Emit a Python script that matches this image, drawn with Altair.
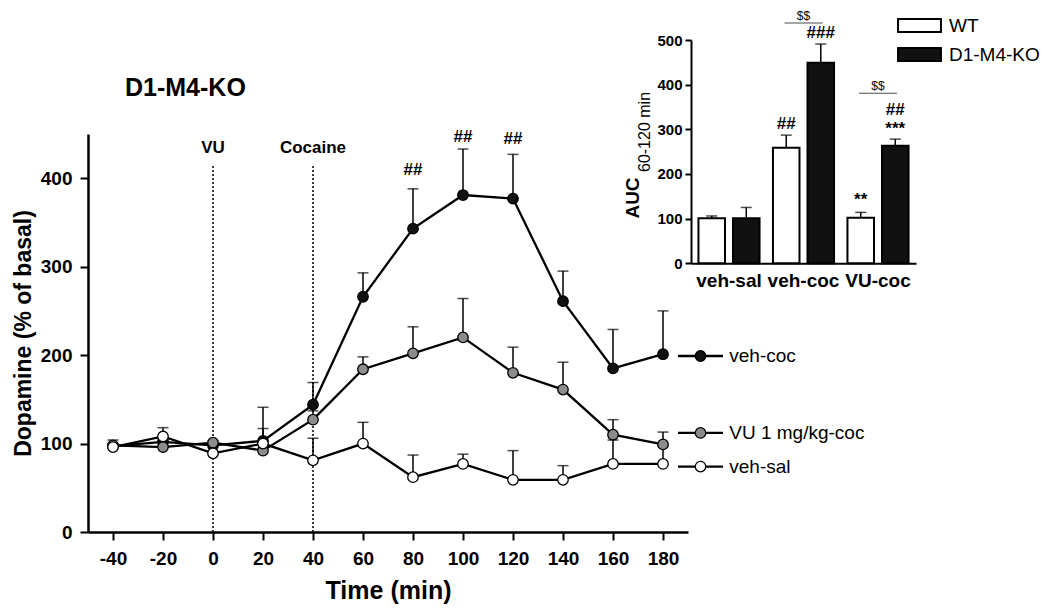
import altair as alt
import pandas as pd

# ---------------- data: main time course ----------------
times = [-40, -20, 0, 20, 40, 60, 80, 100, 120, 140, 160, 180]
series_names = ["veh-coc", "VU 1 mg/kg-coc", "veh-sal"]
veh_coc = [97, 102, 98, 103, 144, 266, 343, 381, 377, 261, 185, 201]
veh_coc_top = [100, 104, 100, 141, 169, 293, 388, 433, 427, 295, 229, 250]
vu_coc = [98, 96, 101, 92, 127, 184, 202, 220, 180, 161, 110, 99]
vu_coc_top = [104, 98, 103, 95, 137, 198, 232, 264, 209, 192, 127, 113]
veh_sal = [96, 108, 89, 100, 81, 100, 62, 77, 59, 59, 77, 77]
veh_sal_top = [99, 118, 91, 117, 106, 124, 87, 88, 92, 75, 104, 97]
series_fill = ["#111111", "#8c8c8c", "#ffffff"]

sig_times = [80, 100, 120]
sig_y = [409, 447, 444]
sig_text = ["##", "##", "##"]

events = ["VU", "Cocaine"]
event_t = [0, 40]

legend_y = [199, 112, 74]

# ---------------- data: inset AUC ----------------
conds = ["veh-sal", "veh-coc", "VU-coc"]
genos = ["WT", "D1-M4-KO"]
auc_wt = [101, 259, 102]
auc_wt_top = [106, 287, 114]
auc_ko = [101, 449, 263]
auc_ko_top = [125, 491, 278]
geno_fill = ["#ffffff", "#111111"]

note_cond = ["veh-coc", "veh-coc", "VU-coc", "VU-coc", "VU-coc"]
note_geno = ["WT", "D1-M4-KO", "WT", "D1-M4-KO", "D1-M4-KO"]
note_y = [311, 515, 141, 300, 343]
note_text = ["##", "###", "**", "***", "##"]

dd_cond = ["veh-coc", "VU-coc"]
dd_line_y = [538, 381]
dd_text_y = [545, 389]

NARROW = "Liberation Sans, Arial, sans-serif"
SANS = "Liberation Sans, Arial, sans-serif"

# ---------------- tables ----------------
rows = []
for name, m, tp in zip(series_names, [veh_coc, vu_coc, veh_sal],
                       [veh_coc_top, vu_coc_top, veh_sal_top]):
    for t, mv, tv in zip(times, m, tp):
        rows.append({"series": name, "t": t, "mean": mv, "top": tv})
df = pd.DataFrame(rows)

sig_df = pd.DataFrame({"t": sig_times, "y": sig_y, "txt": sig_text})
ev_df = pd.DataFrame({"t": event_t, "lab": events, "y0": 0, "y1": 416, "ylab": 434})
leg_df = pd.DataFrame({"series": series_names, "y": legend_y,
                       "x0": 186, "x1": 204, "xm": 195, "xt": 206.5})

auc_rows = []
for c, a, b, ta, tb in zip(conds, auc_wt, auc_ko, auc_wt_top, auc_ko_top):
    auc_rows.append({"cond": c, "geno": "WT", "auc": a, "top": ta})
    auc_rows.append({"cond": c, "geno": "D1-M4-KO", "auc": b, "top": tb})
auc_df = pd.DataFrame(auc_rows)
note_df = pd.DataFrame({"cond": note_cond, "geno": note_geno, "y": note_y, "txt": note_text})
dd_df = pd.DataFrame({"cond": dd_cond, "yl": dd_line_y, "yt": dd_text_y, "txt": "$$"})

# ---------------- main chart ----------------
xs = alt.Scale(domain=[-50, 190], nice=False, zero=False)
ys = alt.Scale(domain=[0, 450], nice=False)
x_axis = alt.Axis(values=times, title="Time (min)", grid=False, domainWidth=2.5,
                  domainColor="black", tickColor="black", tickWidth=2, tickSize=8,
                  labelExpr="datum.value + ''",
                  labelFont=NARROW, labelFontSize=19, labelFontWeight="bold",
                  labelColor="black", labelPadding=9, labelFlush=False,
                  titleFont=SANS, titleFontSize=25, titleFontWeight="bold",
                  titleColor="black", titlePadding=10)
y_axis = alt.Axis(values=[0, 100, 200, 300, 400], title="Dopamine (% of basal)",
                  grid=False, domainWidth=2.5, domainColor="black", tickColor="black",
                  tickWidth=2, tickSize=8, labelFont=NARROW, labelFontSize=19,
                  labelFontWeight="bold", labelColor="black", labelPadding=8,
                  titleFont=SANS, titleFontSize=23, titleFontWeight="bold",
                  titleColor="black", titlePadding=5)

X = alt.X("t:Q", scale=xs, axis=x_axis)
fill_main = alt.Fill("series:N", scale=alt.Scale(domain=series_names, range=series_fill),
                     legend=None)

ev_lines = alt.Chart(ev_df).mark_rule(color="black", strokeWidth=1.5, strokeDash=[2, 2]).encode(
    x=X, y=alt.Y("y0:Q", scale=ys, axis=y_axis), y2="y1:Q")
ev_text = alt.Chart(ev_df).mark_text(font=SANS, fontSize=17, fontWeight="bold",
                                     baseline="middle", color="black").encode(
    x=X, y=alt.Y("ylab:Q", scale=ys, axis=y_axis), text="lab:N")

err_rule = alt.Chart(df).mark_rule(color="black", strokeWidth=1.5).encode(
    x=X, y=alt.Y("mean:Q", scale=ys, axis=y_axis), y2="top:Q")
err_cap = alt.Chart(df).mark_tick(color="black", orient="horizontal", size=11,
                                  thickness=1.5).encode(
    x=X, y=alt.Y("top:Q", scale=ys, axis=y_axis))
lines = alt.Chart(df).mark_line(color="black", strokeWidth=2.3).encode(
    x=X, y=alt.Y("mean:Q", scale=ys, axis=y_axis), detail="series:N")
pts = alt.Chart(df).mark_circle(size=110, stroke="black", strokeWidth=1.3, opacity=1).encode(
    x=X, y=alt.Y("mean:Q", scale=ys, axis=y_axis), fill=fill_main)
sig = alt.Chart(sig_df).mark_text(font=SANS, fontSize=17, fontWeight="bold",
                                  baseline="middle", color="black").encode(
    x=X, y=alt.Y("y:Q", scale=ys, axis=y_axis), text="txt:N")

leg_line = alt.Chart(leg_df).mark_rule(color="black", strokeWidth=2.3).encode(
    x=alt.X("x0:Q", scale=xs, axis=x_axis), x2="x1:Q",
    y=alt.Y("y:Q", scale=ys, axis=y_axis))
leg_pt = alt.Chart(leg_df).mark_circle(size=110, stroke="black", strokeWidth=1.3, opacity=1).encode(
    x=alt.X("xm:Q", scale=xs, axis=x_axis), y=alt.Y("y:Q", scale=ys, axis=y_axis),
    fill=fill_main)
leg_txt = alt.Chart(leg_df).mark_text(font=SANS, fontSize=19, align="left",
                                      baseline="middle", color="black").encode(
    x=alt.X("xt:Q", scale=xs, axis=x_axis), y=alt.Y("y:Q", scale=ys, axis=y_axis),
    text="series:N")

panel_title = alt.Chart(pd.DataFrame({"t": ["D1-M4-KO"]})).mark_text(
    font=SANS, fontSize=25, fontWeight="bold", align="left", baseline="middle",
    color="black").encode(x=alt.value(37), y=alt.value(-46), text="t:N")

main = alt.layer(ev_lines, ev_text, err_rule, err_cap, lines, pts, sig,
                 leg_line, leg_pt, leg_txt, panel_title)

# ---------------- inset chart ----------------
ix_scale = alt.Scale(domain=conds, range=[603, 828], paddingInner=0.18, paddingOuter=0.1)
ix_axis = alt.Axis(orient="bottom", offset=-268.7, title=None, ticks=False,
                   domainWidth=2, domainColor="black", labelFont=SANS, labelFontSize=19,
                   labelFontWeight="bold", labelColor="black", labelPadding=8, labelAngle=0)
iy_scale = alt.Scale(domain=[0, 500], range=[129.3, -94], nice=False)
iy_axis = alt.Axis(orient="left", offset=-603, title=None, values=[0, 100, 200, 300, 400, 500],
                   grid=False, domainWidth=2, domainColor="black", tickColor="black",
                   tickWidth=2, tickSize=6, labelFont=NARROW, labelFontSize=15,
                   labelFontWeight="bold", labelColor="black", labelPadding=3)
IX = alt.X("cond:N", sort=conds, scale=ix_scale, axis=ix_axis)
IXO = alt.XOffset("geno:N", sort=genos,
                  scale=alt.Scale(domain=genos, paddingInner=0.232, paddingOuter=0))

bars = alt.Chart(auc_df).mark_bar(stroke="black", strokeWidth=2).encode(
    x=IX, xOffset=IXO, y=alt.Y("auc:Q", scale=iy_scale, axis=iy_axis),
    fill=alt.Fill("geno:N", scale=alt.Scale(domain=genos, range=geno_fill),
                  legend=alt.Legend(orient="none", legendX=822, legendY=-118, title=None,
                                    symbolType="M-3.3,-1L3.3,-1L3.3,1L-3.3,1Z",
                                    symbolSize=169, symbolStrokeColor="black",
                                    symbolStrokeWidth=2, labelFont=SANS, labelFontSize=19,
                                    labelColor="black", labelOffset=20, rowPadding=8,
                                    padding=0)))
ierr = alt.Chart(auc_df).mark_rule(color="black", strokeWidth=1.5).encode(
    x=IX, xOffset=IXO, y=alt.Y("auc:Q", scale=iy_scale, axis=iy_axis), y2="top:Q")
icap = alt.Chart(auc_df).mark_tick(color="black", orient="horizontal", size=11,
                                   thickness=1.5).encode(
    x=IX, xOffset=IXO, y=alt.Y("top:Q", scale=iy_scale, axis=iy_axis))
inotes = alt.Chart(note_df).mark_text(font=SANS, fontSize=17, fontWeight="bold",
                                      baseline="middle", color="black").encode(
    x=IX, xOffset=IXO, y=alt.Y("y:Q", scale=iy_scale, axis=iy_axis), text="txt:N")
dd_line = alt.Chart(dd_df).mark_tick(color="black", orient="horizontal", size=38,
                                     thickness=1).encode(
    x=IX, y=alt.Y("yl:Q", scale=iy_scale, axis=iy_axis))
dd_txt = alt.Chart(dd_df).mark_text(font=SANS, fontSize=12, baseline="alphabetic",
                                    color="black").encode(
    x=IX, y=alt.Y("yt:Q", scale=iy_scale, axis=iy_axis), text="txt:N")
auc_title = alt.Chart(pd.DataFrame({"t": ["AUC"]})).mark_text(
    font=SANS, fontSize=19, fontWeight="bold", angle=270, baseline="middle",
    color="black").encode(x=alt.value(545), y=alt.value(64), text="t:N")
auc_sub = alt.Chart(pd.DataFrame({"t": ["60-120 min"]})).mark_text(
    font=SANS, fontSize=16, angle=270, baseline="middle", color="black").encode(
    x=alt.value(557), y=alt.value(-2), text="t:N")

inset = alt.layer(bars, ierr, icap, inotes, dd_line, dd_txt, auc_title, auc_sub)

chart = alt.layer(main, inset).resolve_scale(
    x="independent", y="independent", fill="independent"
).properties(
    width=600, height=398,
    autosize=alt.AutoSizeParams(type="none"),
    padding={"left": 80, "top": 126, "right": 354, "bottom": 77},
).configure_view(stroke=None)

chart.save("out.html", embed_options={"renderer": "svg", "actions": False})
